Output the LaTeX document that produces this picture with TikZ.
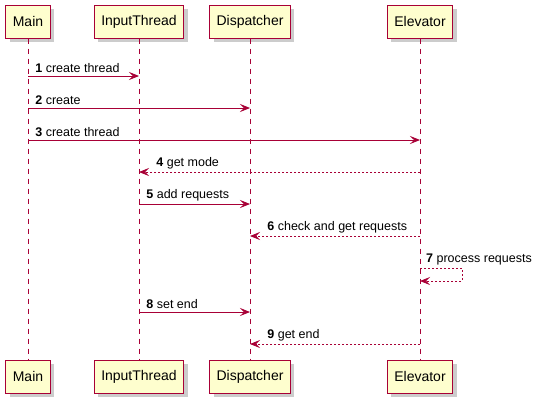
\documentclass[tikz,border=0pt]{standalone}
\usepackage{fontspec}
\setmainfont{Liberation Sans}
\usetikzlibrary{arrows.meta, positioning, shadows}
\usepackage{xcolor}
\definecolor{umlred}{HTML}{A80036}
\definecolor{umlfill}{HTML}{FEFECE}

\begin{document}
\begin{tikzpicture}[x=1pt, y=-1pt]

			% Define style for participant boxes
			\tikzstyle{actor} = [rectangle, draw=umlred, line width=1pt, fill=umlfill,
								minimum height=33pt, inner xsep=7pt,
								font=\fontsize{14}{16}\selectfont,
								drop shadow={shadow xshift=4pt, shadow yshift=-4pt, fill=black, opacity=0.2}]

			% Define style for lifelines and arrows
			\tikzstyle{life} = [draw=umlred, line width=0.8pt, dash pattern=on 5pt off 5pt]
			\tikzstyle{call} = [draw=umlred, line width=0.8pt, -{Stealth[length=10pt, width=8pt, inset=4pt]}]
			\tikzstyle{reply} = [call, dash pattern=on 2pt off 2pt]
			\tikzstyle{msg} = [font=\fontsize{12.5}{14}\selectfont, inner sep=1pt, anchor=south west]

			\useasboundingbox (0,0) rectangle (545,407);

			% Place nodes
			\node [actor] (mainT) at (28,21.5) {Main};
			\node [actor] (inputT) at (139,21.5) {InputThread};
			\node [actor] (dispT) at (250,21.5) {Dispatcher};
			\node [actor] (elevT) at (420,21.5) {Elevator};

			\node [actor] (mainB) at (28,376.5) {Main};
			\node [actor] (inputB) at (139,376.5) {InputThread};
			\node [actor] (dispB) at (250,376.5) {Dispatcher};
			\node [actor] (elevB) at (420,376.5) {Elevator};

			% Lifelines
			\path [life] (mainT) -- (mainB);
			\path [life] (inputT) -- (inputB);
			\path [life] (dispT) -- (dispB);
			\path [life] (elevT) -- (elevB);

			% Message rows
			\foreach \y [count=\i] in {76,108,140,172,204,236,268,312,344}
				\coordinate (r\i) at (0,\y);
			\coordinate (r7b) at (0,281);

			% Draw edges
			\path [call] (mainT |- r1) -- (inputT |- r1)
				node [msg, pos=0, xshift=6pt, yshift=2pt] {\textbf{1} create thread};
			\path [call] (mainT |- r2) -- (dispT |- r2)
				node [msg, pos=0, xshift=6pt, yshift=2pt] {\textbf{2} create};
			\path [call] (mainT |- r3) -- (elevT |- r3)
				node [msg, pos=0, xshift=6pt, yshift=2pt] {\textbf{3} create thread};
			\path [reply] (elevT |- r4) -- (inputT |- r4)
				node [msg, pos=1, xshift=16pt, yshift=2pt] {\textbf{4} get mode};
			\path [call] (inputT |- r5) -- (dispT |- r5)
				node [msg, pos=0, xshift=6pt, yshift=2pt] {\textbf{5} add requests};
			\path [reply] (elevT |- r6) -- (dispT |- r6)
				node [msg, pos=1, xshift=16pt, yshift=2pt] {\textbf{6} check and get requests};
			\path [reply] (elevT |- r7) -- ++(42,0) |- (elevT |- r7b);
			\node [msg, xshift=5pt, yshift=2pt] (m7) at (elevT |- r7) {\textbf{7} process requests};
			\path [call] (inputT |- r8) -- (dispT |- r8)
				node [msg, pos=0, xshift=6pt, yshift=2pt] {\textbf{8} set end};
			\path [reply] (elevT |- r9) -- (dispT |- r9)
				node [msg, pos=1, xshift=16pt, yshift=2pt] {\textbf{9} get end};
		\end{tikzpicture}
\end{document}
